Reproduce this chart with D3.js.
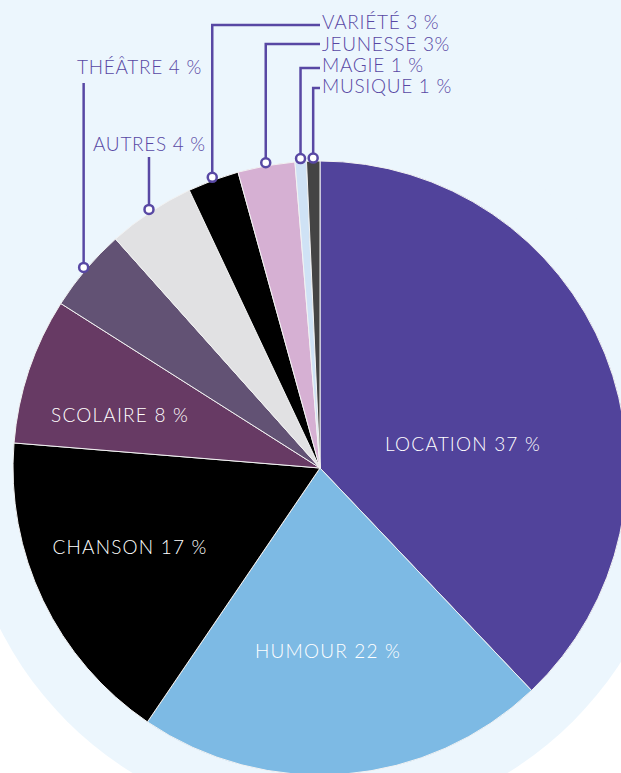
<!DOCTYPE html>
<html>
<head>
<meta charset="utf-8">
<script src="https://cdn.jsdelivr.net/npm/d3@7"></script>
<style>
  html, body { margin: 0; padding: 0; background: #fff; }
  svg { display: block; }
  text { font-family: Lato, "Open Sans", sans-serif; font-weight: 300; }
</style>
</head>
<body>
<div id="pie"></div>
<script>
const categories = ["LOCATION", "HUMOUR", "CHANSON", "SCOLAIRE", "THÉÂTRE", "AUTRES", "VARIÉTÉ", "JEUNESSE", "MAGIE", "MUSIQUE"];
const shares = [37.9, 21.6, 16.8, 7.7, 4.4, 4.6, 2.7, 3.0, 0.6, 0.7];
const labels = ["LOCATION 37 %", "HUMOUR 22 %", "CHANSON 17 %", "SCOLAIRE 8 %", "THÉÂTRE 4 %", "AUTRES 4 %", "VARIÉTÉ 3 %", "JEUNESSE 3%", "MAGIE 1 %", "MUSIQUE 1 %"];
const colors = ["#51439b", "#7dbae4", "#000000", "#673a64", "#625274", "#e1e1e3", "#000000", "#d6b0d3", "#cfe2f5", "#444444"];

const width = 621, height = 773;
const cx = 320, cy = 468, radius = 307;
const purple = "#5848a4";

// where the labels sit
const insideLabels = {
    "LOCATION": [143, -24],
    "HUMOUR": [8, 183],
    "CHANSON": [-190, 79],
    "SCOLAIRE": [-200, -53]
};
const upCallouts = {
    "THÉÂTRE": { x: 77, baseline: 74, lineTop: 83 },
    "AUTRES": { x: 93, baseline: 151, lineTop: 157 }
};
const sideCallouts = {
    "VARIÉTÉ": { lineY: 25, baseline: 29 },
    "JEUNESSE": { lineY: 44, baseline: 51 },
    "MAGIE": { lineY: 68, baseline: 72 },
    "MUSIQUE": { lineY: 88, baseline: 93 }
};
const sideX = 322;

const svg = d3.select("#pie")
    .append("svg")
    .attr("width", width)
    .attr("height", height);

// light blue backdrop
svg.append("rect")
    .attr("width", width)
    .attr("height", cy)
    .attr("fill", "#ecf6fd");
svg.append("circle")
    .attr("cx", cx)
    .attr("cy", cy)
    .attr("r", 358)
    .attr("fill", "#ecf6fd");

const g = svg.append("g")
    .attr("transform", `translate(${cx}, ${cy})`);

const data = categories.map((c, i) => ({ name: c, value: shares[i], label: labels[i], color: colors[i] }));

const pie = d3.pie()
    .sort(null)
    .value(d => d.value);

const arc = d3.arc()
    .innerRadius(0)
    .outerRadius(radius);

const dotArc = d3.arc()
    .innerRadius(310)
    .outerRadius(310);

const arcs = pie(data);

g.selectAll("path")
    .data(arcs)
    .join("path")
    .attr("d", arc)
    .attr("fill", d => d.data.color)
    .attr("stroke", "#f2f2f2")
    .attr("stroke-width", 1);

// labels inside the big slices
g.selectAll(".inlabel")
    .data(arcs.filter(d => insideLabels[d.data.name]))
    .join("text")
    .attr("class", "inlabel")
    .attr("x", d => insideLabels[d.data.name][0])
    .attr("y", d => insideLabels[d.data.name][1])
    .attr("dy", "0.36em")
    .attr("text-anchor", "middle")
    .attr("fill", "#fff")
    .style("font-size", "19px")
    .style("letter-spacing", "1.2px")
    .text(d => d.data.label);

// callouts for the small slices
const callouts = arcs.filter(d => upCallouts[d.data.name] || sideCallouts[d.data.name]);

callouts.forEach(d => {
    const [px, py] = dotArc.centroid(d);
    const dotX = px + cx, dotY = py + cy;
    let pts, tx, ty;
    if (upCallouts[d.data.name]) {
        const c = upCallouts[d.data.name];
        pts = [[dotX, dotY], [dotX, c.lineTop]];
        tx = c.x; ty = c.baseline;
    } else {
        const c = sideCallouts[d.data.name];
        pts = [[dotX, dotY], [dotX, c.lineY], [sideX - 2, c.lineY]];
        tx = sideX; ty = c.baseline;
    }
    svg.append("path")
        .attr("d", d3.line()(pts))
        .attr("fill", "none")
        .attr("stroke", purple)
        .attr("stroke-width", 2.5);
    svg.append("circle")
        .attr("cx", dotX)
        .attr("cy", dotY)
        .attr("r", 4.5)
        .attr("fill", "#fff")
        .attr("stroke", purple)
        .attr("stroke-width", 2.5);
    svg.append("text")
        .attr("x", tx)
        .attr("y", ty)
        .attr("fill", purple)
        .style("font-size", "19px")
        .style("letter-spacing", "0.7px")
        .text(d.data.label);
});
</script>
</body>
</html>
